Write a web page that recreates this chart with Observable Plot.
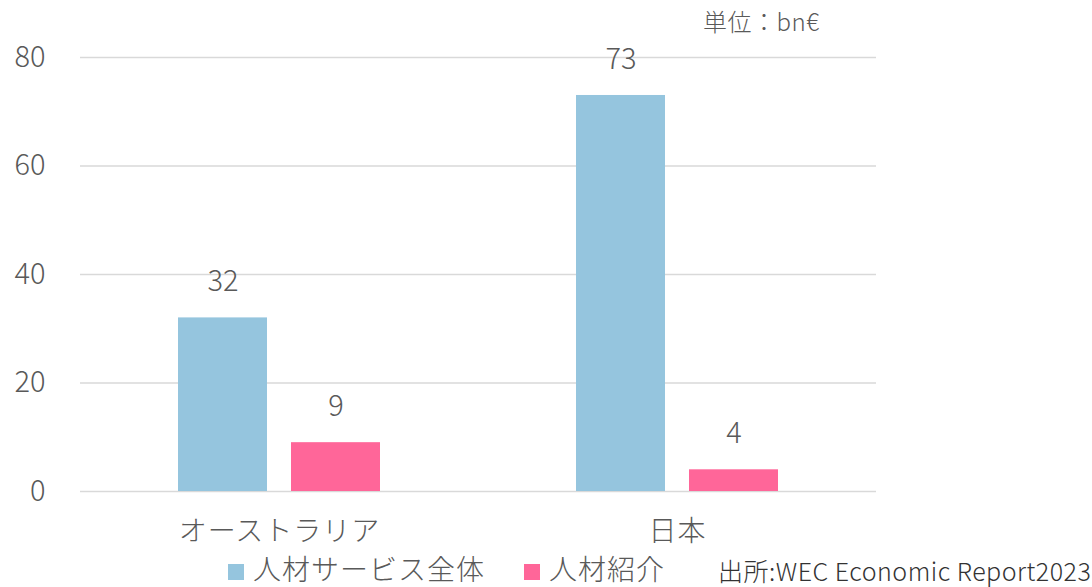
<!DOCTYPE html>
<html>
<head>
<meta charset="utf-8">
<script src="https://cdn.jsdelivr.net/npm/d3@7"></script>
<script src="https://cdn.jsdelivr.net/npm/@observablehq/plot@0.6"></script>
<style>
  html, body { margin: 0; padding: 0; background: #fff; }
  #wrap { position: relative; width: 1092px; height: 587px; overflow: hidden;
          font-family: "Noto Sans CJK JP", "Noto Sans", sans-serif; font-weight: 300; color: #595959; }
  #chart { position: absolute; left: 0; top: 0; }
  .abs { position: absolute; white-space: nowrap; line-height: 1; }
  .sw { position: absolute; width: 16px; height: 16px; }
</style>
</head>
<body>
<div id="wrap">
  <div id="chart"></div>
  <div class="abs" id="unit" style="left:703px; top:9px; font-size:24px; letter-spacing:0.5px;">単位：bn€</div>
  <div class="sw" id="sw0" style="left:228px; top:564px;"></div>
  <div class="abs" id="lg0" style="left:253px; top:554px; font-size:28px; letter-spacing:1px;"></div>
  <div class="sw" id="sw1" style="left:524px; top:564px;"></div>
  <div class="abs" id="lg1" style="left:549px; top:554px; font-size:28px; letter-spacing:1px;"></div>
  <div class="abs" id="src" style="left:718px; top:558px; font-size:25px; letter-spacing:0.5px; color:#333;">出所:WEC Economic Report2023</div>
</div>
<script>
const categories = ["オーストラリア", "日本"];
const seriesNames = ["人材サービス全体", "人材紹介"];
const totalValues = [32, 73];
const referralValues = [9, 4];
const yTicks = [0, 20, 40, 60, 80];
const colors = ["#95C5DE", "#FF6699"];

const data = [];
categories.forEach((c, i) => {
  data.push({cat: c, series: seriesNames[0], value: totalValues[i]});
  data.push({cat: c, series: seriesNames[1], value: referralValues[i]});
});

const font = '"Noto Sans CJK JP", "Noto Sans", sans-serif';

const chart = Plot.plot({
  width: 1092,
  height: 555,
  marginLeft: 80,
  marginRight: 216,
  marginTop: 57,
  marginBottom: 64,
  style: {fontFamily: font, fontSize: "26px", fontWeight: 300, color: "#595959", background: "transparent", overflow: "visible"},
  fx: {domain: categories, padding: 0, label: null, axis: null},
  x: {domain: seriesNames, paddingInner: 0.212, paddingOuter: 0.867, axis: null},
  y: {domain: [0, 80], label: null, axis: null},
  color: {domain: seriesNames, range: colors},
  marks: [
    Plot.ruleY(yTicks, {stroke: "#d9d9d9", strokeWidth: 1.5}),
    Plot.barY(data, {fx: "cat", x: "series", y: "value", fill: "series"}),
    Plot.text(data, {fx: "cat", x: "series", y: "value", text: d => String(d.value),
      dy: -36, fontSize: 29, fill: "#595959"}),
    Plot.axisY(yTicks, {tickSize: 0, tickPadding: 35, fontSize: 29, label: null, fill: "#595959"}),
    Plot.axisFx({anchor: "bottom", tickSize: 0, tickPadding: 30, fontSize: 28, label: null, fill: "#595959"})
  ]
});
chart.querySelectorAll("g[aria-label='fx-axis tick label'] text").forEach(t => t.setAttribute("letter-spacing", "1"));
document.getElementById("chart").appendChild(chart);

document.getElementById("sw0").style.background = colors[0];
document.getElementById("sw1").style.background = colors[1];
document.getElementById("lg0").textContent = seriesNames[0];
document.getElementById("lg1").textContent = seriesNames[1];
</script>
</body>
</html>
